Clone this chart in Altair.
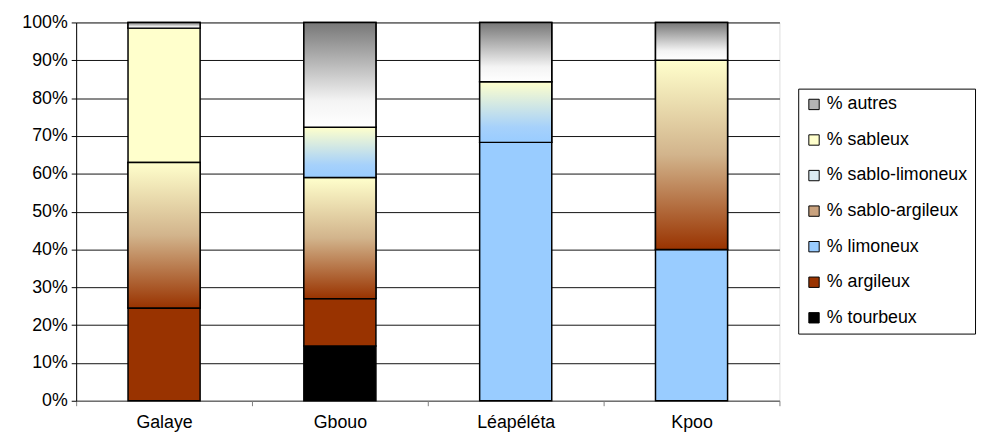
import altair as alt
import pandas as pd

categories = ["Galaye", "Gbouo", "Léapéléta", "Kpoo"]
series = ["% tourbeux", "% argileux", "% limoneux", "% sablo-argileux",
          "% sablo-limoneux", "% sableux", "% autres"]
tourbeux = [0, 14.5, 0, 0]
argileux = [24.5, 12.5, 0, 0]
limoneux = [0, 0, 68.3, 40]
sablo_argileux = [38.5, 32, 0, 50]
sablo_limoneux = [0, 13.3, 16, 0]
sableux = [35.5, 0, 0, 0]
autres = [1.5, 27.7, 15.7, 10]
legend_colors = ["#000000", "#993300", "#99CCFF", "#C9A27E", "#DCEBF2", "#FFFFCC", "#B4B4B4"]

values = [tourbeux, argileux, limoneux, sablo_argileux, sablo_limoneux, sableux, autres]
rows = []
for si, (s, vals) in enumerate(zip(series, values)):
    for c, v in zip(categories, vals):
        rows.append({"cat": c, "serie": s, "val": v, "ord": si})
df = pd.DataFrame(rows)

legend_order = list(reversed(series))
legend_cols = list(reversed(legend_colors))

base = alt.Chart(df).transform_filter("datum.val > 0").transform_stack(
    stack="val", groupby=["cat"], as_=["y0", "y1"], sort=[alt.SortField("ord", order="ascending")]
)

FS = 18
x_enc = alt.X("cat:N", sort=categories, title=None,
              scale=alt.Scale(paddingInner=0, paddingOuter=0),
              axis=alt.Axis(labelAngle=0, tickBand="extent", labelFontSize=FS,
                            labelColor="black", labelPadding=8, tickSize=5,
                            tickColor="#808080", domainColor="#808080", labelFont="Liberation Sans"))
y_enc = alt.Y("y0:Q", title=None,
              scale=alt.Scale(domain=[0, 100], nice=False),
              axis=alt.Axis(values=list(range(0, 101, 10)), labelExpr="datum.value + '%'",
                            labelFontSize=FS, labelColor="black", labelFont="Liberation Sans",
                            grid=True, gridColor="#111111", gridWidth=1, tickSize=5,
                            tickColor="black", domainColor="black", labelPadding=4))

bw = {"band": 0.41}

solid = base.mark_bar(width=bw, stroke="black", strokeWidth=1.5).encode(
    x=x_enc, y=y_enc, y2="y1:Q",
    color=alt.Color("serie:N", scale=alt.Scale(domain=legend_order, range=legend_cols),
                    legend=alt.Legend(title=None, orient="none", legendX=731, legendY=67,
                                      symbolType="square", symbolSize=110,
                                      symbolStrokeColor="black", symbolStrokeWidth=1,
                                      labelFontSize=FS, labelFont="Liberation Sans",
                                      labelColor="black", rowPadding=18,
                                      strokeColor="black", padding=7, labelOffset=4,
                                      fillColor="white", labelLimit=300))
)

def grad_layer(name, stops, x1, y1, x2, y2):
    g = alt.Gradient(gradient="linear", x1=x1, y1=y1, x2=x2, y2=y2,
                     stops=[alt.GradientStop(offset=o, color=c) for o, c in stops])
    return base.transform_filter(alt.datum.serie == name).mark_bar(
        width=bw, stroke="black", strokeWidth=1.5, fill=g
    ).encode(x=x_enc, y=y_enc, y2="y1:Q")

ga = grad_layer("% sablo-argileux", [(0, "#993300"), (0.5, "#D2B48C"), (1, "#FFFFCC")], 0, 1, 0, 0)
gl = grad_layer("% sablo-limoneux", [(0, "#99CCFF"), (0.25, "#A6D1FB"), (1, "#FFFFCC")], 0, 1, 0, 0)
gt = grad_layer("% autres", [(0, "#777777"), (0.75, "#F4F4F4"), (1, "#FFFFFF")], 0, 0, 0, 1)

chart = alt.layer(solid, ga, gl, gt).properties(
    width=712, height=383,
    autosize=alt.AutoSizeParams(type="none"),
    padding={"left": 69, "top": 12, "right": 200, "bottom": 30},
).configure_view(stroke=None).configure(background="white")

chart.save("out.html", embed_options={"renderer": "svg", "actions": False})
